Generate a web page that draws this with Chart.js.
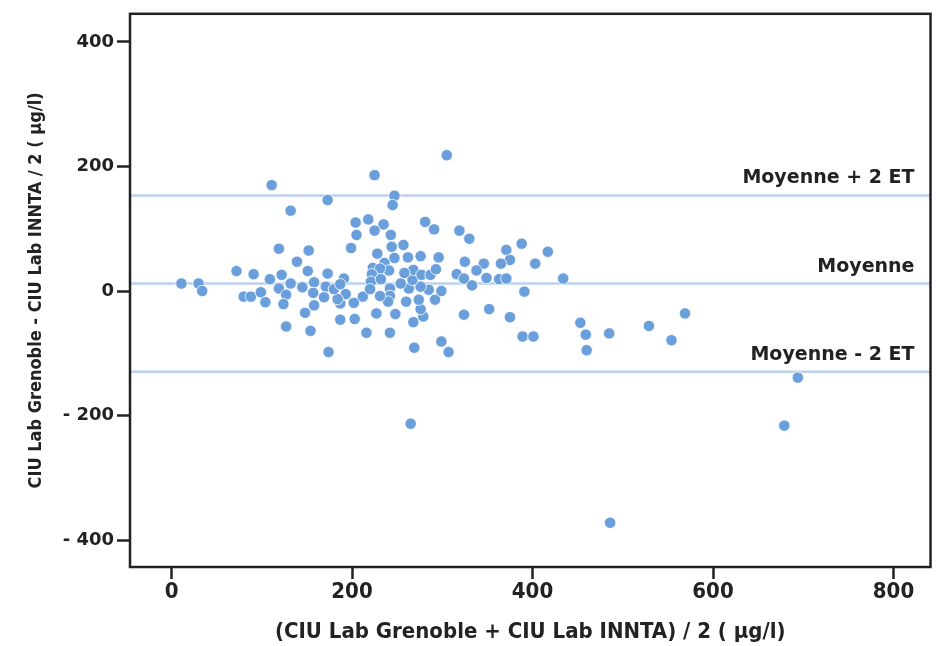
<!DOCTYPE html>
<html>
<head>
<meta charset="utf-8">
<script src="https://cdn.jsdelivr.net/npm/chart.js@4.4.1/dist/chart.umd.min.js"></script>
<style>
  html, body { margin: 0; padding: 0; background: #fff; }
</style>
</head>
<body>
<canvas id="chart" width="937" height="646"></canvas>
<script>
// mean of the two labs (x) vs difference (y), µg/l
const xValues = [
  111, 132, 173, 11, 30, 34, 72, 91, 80, 88, 99, 104, 109, 119, 122, 119, 127, 124, 132, 127,
  139, 152, 151, 145, 158, 157, 158, 148, 154, 173, 171, 169, 174, 305, 225, 247, 245, 204, 218, 235,
  225, 205, 243, 199, 244, 257, 281, 291, 228, 247, 262, 276, 296, 319, 330, 325, 346, 338, 349, 316,
  324, 333, 352, 324, 299, 307, 269, 268, 279, 276, 274, 260, 292, 299, 285, 276, 263, 254, 267, 268,
  277, 287, 293, 258, 248, 242, 242, 240, 231, 242, 227, 216, 212, 203, 202, 187, 187, 193, 184, 180,
  191, 187, 223, 226, 236, 241, 231, 222, 221, 220, 232, 388, 371, 417, 375, 365, 403, 363, 371, 434,
  391, 375, 389, 401, 453, 459, 460, 485, 529, 554, 569, 694, 679, 486, 265
];
const yValues = [
  170, 129, 146, 12, 12, 0, 32, 27, -9, -9, -2, -18, 19, 68, 26, 4, -6, -21, 12, -57,
  47, 65, 32, 6, 14, -3, -23, -35, -64, 28, 7, -10, -98, 218, 186, 153, 138, 110, 115, 107,
  97, 90, 90, 69, 71, 74, 111, 99, 60, 53, 54, 56, 54, 97, 84, 47, 44, 33, 21, 27,
  20, 9, -29, -38, -81, -98, -91, -50, -41, -29, -14, -17, -14, 0, 2, 7, 4, 12, 18, 34,
  26, 26, 35, 29, -37, 4, -8, -17, -8, -67, -36, -67, -9, -45, -19, -46, -20, -5, -13, 3,
  20, 11, 37, 24, 45, 33, 36, 27, 15, 3, 19, 76, 66, 63, 50, 44, 44, 19, 20, 20,
  -1, -42, -73, -73, -51, -70, -95, -68, -56, -79, -36, -139, -216, -372, -213
];

const MEAN = 12;
const UPPER = 153.5;   // moyenne + 2 ET
const LOWER = -129.5;  // moyenne - 2 ET
const refValues = [UPPER, MEAN, LOWER];
const refLabels = ['Moyenne + 2 ET', 'Moyenne', 'Moyenne - 2 ET'];

const xTicks = [0, 200, 400, 600, 800];
const yTicks = [-400, -200, 0, 200, 400];
const X_MIN = -46, X_MAX = 841;
const Y_MIN = -443, Y_MAX = 445;

const NARROW = '"DejaVu Sans Condensed", "DejaVu Sans"';

const points = xValues.map((x, i) => ({ x: x, y: yValues[i] }));

const refDatasets = refValues.map((v) => ({
  type: 'line',
  data: [{ x: X_MIN, y: v }, { x: X_MAX, y: v }],
  borderColor: '#bcd1ec',
  borderWidth: 2.5,
  pointRadius: 0,
  order: 2,
}));

// box around the plot + text over the reference lines
const framePlugin = {
  id: 'frame',
  afterDraw(chart) {
    const { ctx, chartArea, scales } = chart;
    ctx.save();
    ctx.fillStyle = '#222';
    ctx.font = 'bold 19px "DejaVu Sans"';
    ctx.textAlign = 'right';
    ctx.textBaseline = 'alphabetic';
    refValues.forEach((v, i) => {
      ctx.fillText(refLabels[i], chartArea.right - 16, scales.y.getPixelForValue(v) - 12);
    });
    ctx.strokeStyle = '#222';
    ctx.lineWidth = 2.5;
    ctx.strokeRect(chartArea.left, chartArea.top, chartArea.right - chartArea.left, chartArea.bottom - chartArea.top);
    ctx.restore();
  }
};

const ctx = document.getElementById('chart').getContext('2d');
new Chart(ctx, {
  type: 'scatter',
  data: {
    datasets: [
      {
        data: points,
        backgroundColor: '#6a9fdc',
        borderColor: '#ffffff',
        borderWidth: 0.8,
        pointRadius: 5.7,
        order: 1,
      },
      ...refDatasets,
    ],
  },
  options: {
    responsive: false,
    animation: false,
    plugins: { legend: { display: false }, tooltip: { enabled: false } },
    layout: { padding: { top: 9, right: 5, left: 0, bottom: 0 } },
    scales: {
      x: {
        type: 'linear',
        min: X_MIN,
        max: X_MAX,
        afterFit(scale) { scale.height = 79; },
        afterBuildTicks(scale) { scale.ticks = xTicks.map((v) => ({ value: v })); },
        border: { display: false },
        grid: { drawOnChartArea: false, drawTicks: true, tickLength: 12, tickWidth: 2.5, tickColor: '#222' },
        ticks: {
          color: '#222',
          padding: 2,
          font: { family: NARROW, weight: 'bold', size: 22, lineHeight: 1 },
          maxRotation: 0,
        },
        title: {
          display: true,
          text: '(CIU Lab Grenoble + CIU Lab INNTA) / 2 ( µg/l)',
          color: '#222',
          padding: { top: 0, bottom: 3 },
          font: { family: NARROW, weight: 'bold', size: 22, lineHeight: 1 },
        },
      },
      y: {
        type: 'linear',
        min: Y_MIN,
        max: Y_MAX,
        afterFit(scale) { scale.width = 130; },
        afterBuildTicks(scale) { scale.ticks = yTicks.map((v) => ({ value: v })); },
        border: { display: false },
        grid: { drawOnChartArea: false, drawTicks: true, tickLength: 13, tickWidth: 2.5, tickColor: '#222' },
        ticks: {
          color: '#222',
          padding: 3,
          font: { family: '"DejaVu Sans"', weight: 'bold', size: 18 },
          callback: (v) => (v < 0 ? '- ' + Math.abs(v) : String(v)),
        },
        title: {
          display: true,
          text: 'CIU Lab Grenoble - CIU Lab INNTA / 2 ( µg/l)',
          color: '#222',
          padding: { top: 27, bottom: 0 },
          font: { family: NARROW, weight: 'bold', size: 18, lineHeight: 1 },
        },
      },
    },
  },
  plugins: [framePlugin],
});
</script>
</body>
</html>
